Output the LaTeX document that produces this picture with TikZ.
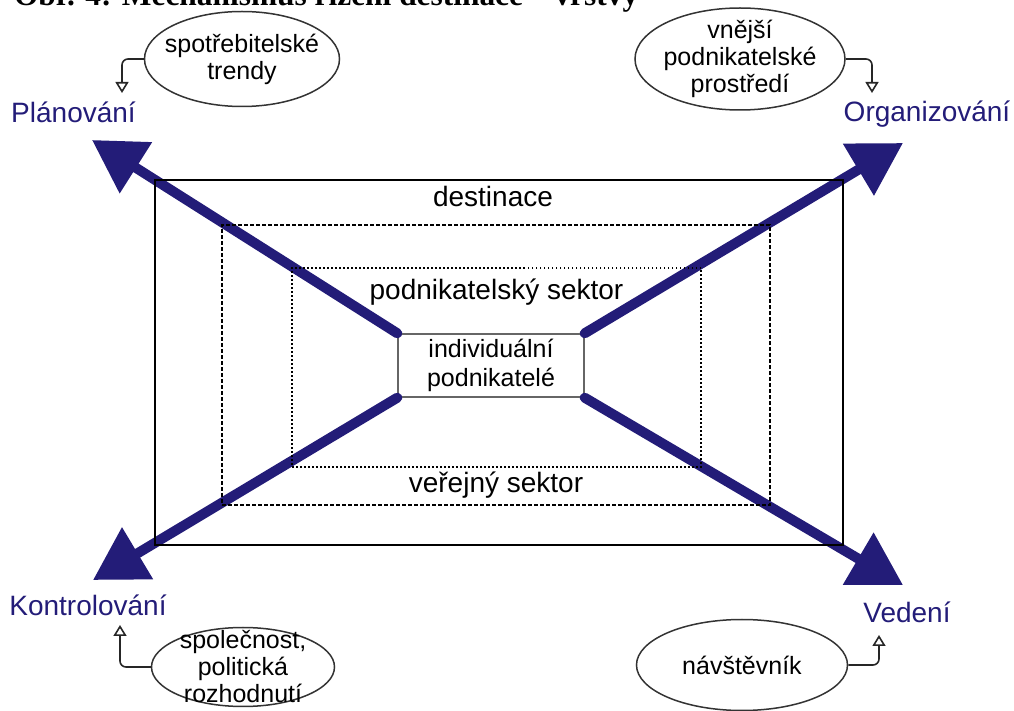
\documentclass[tikz,border=0pt]{standalone}
\usepackage{fontspec}
\setmainfont{Liberation Sans}
\newfontfamily\titlefont{Liberation Serif}
\usepackage{tikz}
\usetikzlibrary{arrows.meta,calc,positioning,shapes}
\definecolor{navy}{RGB}{35,28,120}
\tikzset{%
	layer/.style    = {draw, rectangle, inner sep=0pt}, % Layer frame
	core/.style     = {draw=black!60, rectangle, line width=0.7pt, inner sep=0pt, align=center, font=\fontsize{12.5}{14.5}\selectfont}, % Innermost layer
	tag/.style      = {inner sep=0pt, text height=10pt, text depth=3pt, font=\fontsize{14}{16}\selectfont}, % Layer name
	factor/.style   = {draw=black!80, ellipse, line width=0.75pt, inner sep=-10pt, align=center, font=\fontsize{12.5}{13.5}\selectfont}, % Outside influence
	func/.style     = {text=navy, anchor=base, font=\fontsize{14}{16}\selectfont}, % Management function
	bigarrow/.style = {navy, line width=5pt, line cap=round, -{Triangle[length=26pt,width=29pt]}},
	feed/.style     = {black!85, line width=0.8pt, rounded corners=3pt, -{Triangle[open,length=5.5pt,width=6.5pt]}},
}

\begin{document}
\begin{tikzpicture}[x=0.5pt,y=-0.5pt]
	\useasboundingbox (0,0) rectangle (1014,711);
	\node [anchor=base west,font=\titlefont\bfseries\fontsize{15.7}{18}\selectfont] (title) at (7,6) {Obr. 4: Mechanismus řízení destinace – vrstvy};
	
	\node [core,minimum width=93pt,minimum height=31.5pt] (ind) at (491,365.5) {individuální\\podnikatelé};
	
	\coordinate (plantip) at (92,140);
	\coordinate (orgtip) at (903,143);
	\coordinate (ctrltip) at (93,580);
	\coordinate (leadtip) at (903,585);
	\draw [bigarrow] (ind.north west) -- (plantip);
	\draw [bigarrow] (ind.north east) -- (orgtip);
	\draw [bigarrow] (ind.south west) -- (ctrltip);
	\draw [bigarrow] (ind.south east) -- (leadtip);
	
	\node [layer,line width=1pt,minimum width=344pt,minimum height=182.5pt] (dest) at (499,362.5) {};
	\node [layer,line width=0.75pt,dash pattern=on 2pt off 1pt,minimum width=274pt,minimum height=140pt] (pub) at (496,365) {};
	\node [layer,line width=0.75pt,dash pattern=on 0.75pt off 1.25pt,minimum width=204.5pt,minimum height=99.5pt] (biz) at (496.5,367.5) {};
	
	\node [tag] (destlbl) [below=3.5pt of dest.north,xshift=-3pt] {destinace};
	\node [tag] (bizlbl) [below=6pt of biz.north] {podnikatelský sektor};
	\node [tag] (publbl) [above=3.5pt of pub.south] {veřejný sektor};
	
	\node [func] (plan) at (73.5,123) {Plánování};
	\node [func] (org) at (927,122) {Organizování};
	\node [func] (ctrl) at (88,616) {Kontrolování};
	\node [func] (lead) at (907,623) {Vedení};
	
	\node [factor,minimum width=97.5pt,minimum height=47.5pt] (trendy) at (242,59) {spotřebitelské\\trendy};
	\node [factor,minimum width=105pt,minimum height=51pt] (env) at (740,59) {vnější\\podnikatelské\\prostředí};
	\node [factor,minimum width=91.5pt,minimum height=39.5pt] (soc) at (243,667) {společnost,\\politická\\rozhodnutí};
	\node [factor,minimum width=105.5pt,minimum height=45.5pt] (visitor) at (742,665) {návštěvník};
	
	\coordinate (planin) at (122,93);
	\coordinate (orgin) at (872,93);
	\coordinate (ctrlin) at (120,625);
	\coordinate (leadin) at (879,635);
	\draw [feed] (trendy.west) -| (planin);
	\draw [feed] (env.east) -| (orgin);
	\draw [feed] (soc.west) -| (ctrlin);
	\draw [feed] (visitor.east) -| (leadin);
	
\end{tikzpicture}
\end{document}
